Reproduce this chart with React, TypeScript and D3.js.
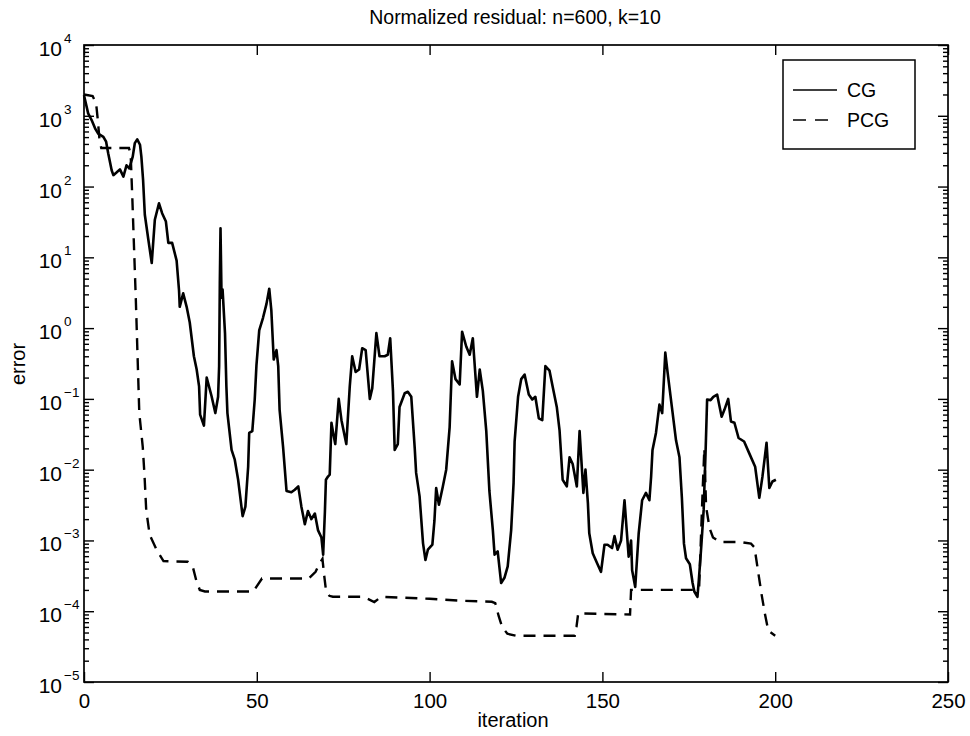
import * as d3 from 'd3';
import { useEffect, useRef } from 'react';

const xTicks = [0, 50, 100, 150, 200, 250];
const yDecades = [-5, -4, -3, -2, -1, 0, 1, 2, 3, 4];

// CG residual (solid)
const cgIter = [0, 1.2, 2.2, 3.2, 4.1, 5.6, 6.4, 7, 8, 8.5, 9.4, 10.4, 11.4, 12.3, 13.1, 14.1, 14.7, 15.4, 16.2, 16.6,
  17.1, 17.6, 18.6, 19.6, 20.5, 21.7, 22.6, 23.7, 24.4, 25.5, 26.8, 27.5, 27.7, 28.7, 29.7, 30.6, 31.8, 32.6, 33.3, 33.6,
  34.7, 35.5, 36.9, 38, 38.8, 39.1, 39.3, 39.5, 39.8, 40.1, 40.8, 41.2, 41.5, 42.7, 43.6, 44.6, 45.9, 46.7, 47.5, 47.8,
  48.7, 49.4, 49.9, 50.7, 51.8, 52.8, 53.6, 54.2, 54.9, 55.7, 56.2, 56.6, 57.6, 58.6, 60, 61, 62, 62.9, 63.9, 64.8,
  65.8, 66.8, 67.7, 68.7, 69.2, 69.7, 70, 70.6, 71.1, 71.6, 72.1, 72.7, 73.7, 74.5, 75.9, 76.9, 77.6, 78.6, 79.6, 80.5,
  81.5, 82.7, 83.4, 84.6, 85.5, 87, 87.9, 88.6, 89.4, 89.9, 90.8, 91.3, 92.8, 93.7, 94.7, 95.7, 96.1, 97.1, 98.1, 98.8,
  99.5, 100.8, 101.4, 101.9, 102.7, 103.8, 104.8, 105.8, 106.5, 107.5, 108.7, 109.4, 110.6, 111.6, 112.5, 113.7, 114.5, 115.4, 116.4, 117.3,
  118.3, 118.8, 119.7, 120.7, 121.7, 122.6, 123.6, 124.3, 124.6, 125.6, 126.5, 127.5, 128.7, 129.7, 130.6, 131.6, 132.6, 133.5, 134.7, 135.6,
  136.8, 137.6, 138.5, 139.7, 140.5, 141.4, 142.6, 143.4, 144.5, 145.1, 145.8, 146.2, 147.2, 148.6, 149.6, 150.6, 151.5, 152.8, 153.5, 154.4,
  155.4, 156.4, 156.9, 157.6, 158.3, 158.6, 159.5, 160.5, 161.5, 162.6, 163.6, 164.1, 164.5, 165.5, 166.5, 167.3, 168.2, 168.9, 170.1, 171.3,
  172.3, 173, 173.6, 174.2, 175.3, 176.1, 176.6, 177.5, 177.9, 178.6, 179.3, 179.9, 180.3, 181.3, 182.1, 183.2, 184.5, 185.3, 186.4, 187.2,
  188.2, 189.4, 191, 192.5, 194.2, 195.4, 196.3, 197.5, 198.3, 199.2, 200.2];
const cgErr = [1950, 1080, 870, 665, 560, 505, 430, 295, 170, 145, 158, 175, 138, 200, 180, 265, 410, 465, 390, 265,
  123, 40, 18, 8.3, 34, 58, 42, 32, 16, 16, 9, 3.4, 2, 3.1, 2, 1.2, 0.4, 0.26, 0.15, 0.06,
  0.042, 0.2, 0.11, 0.063, 0.107, 0.29, 4.3, 25.8, 2.7, 3.5, 0.85, 0.15, 0.063, 0.019, 0.014, 0.0072, 0.0022, 0.003, 0.011, 0.033,
  0.035, 0.098, 0.3, 0.93, 1.4, 2.2, 3.6, 1.8, 0.36, 0.49, 0.29, 0.07, 0.021, 0.005, 0.0048, 0.0052, 0.0058, 0.003, 0.0017, 0.0026,
  0.002, 0.0024, 0.0014, 0.0011, 0.00063, 0.0025, 0.0072, 0.008, 0.0085, 0.046, 0.033, 0.023, 0.1, 0.05, 0.023, 0.15, 0.4, 0.24, 0.26, 0.52,
  0.49, 0.1, 0.14, 0.85, 0.4, 0.4, 0.42, 0.72, 0.13, 0.019, 0.023, 0.077, 0.12, 0.126, 0.107, 0.02, 0.009, 0.0042, 0.00091, 0.00053,
  0.00074, 0.00087, 0.0019, 0.0055, 0.0032, 0.0057, 0.01, 0.04, 0.34, 0.19, 0.16, 0.89, 0.55, 0.42, 0.72, 0.107, 0.26, 0.13, 0.035, 0.005,
  0.0014, 0.00063, 0.0007, 0.00025, 0.0003, 0.00043, 0.0014, 0.0065, 0.025, 0.107, 0.19, 0.22, 0.115, 0.098, 0.107, 0.053, 0.05, 0.29, 0.25, 0.15,
  0.077, 0.036, 0.0072, 0.0058, 0.015, 0.012, 0.0058, 0.035, 0.0047, 0.01, 0.0034, 0.00126, 0.00066, 0.00046, 0.00036, 0.00087, 0.00087, 0.00078, 0.00115, 0.00074,
  0.001, 0.0037, 0.0017, 0.00059, 0.001, 0.00038, 0.00022, 0.00126, 0.0037, 0.0047, 0.0037, 0.008, 0.019, 0.033, 0.083, 0.063, 0.45, 0.23, 0.077, 0.026,
  0.015, 0.004, 0.0009, 0.00056, 0.00046, 0.00025, 0.00019, 0.00016, 0.000275, 0.00081, 0.0027, 0.021, 0.098, 0.096, 0.107, 0.115, 0.056, 0.07, 0.1, 0.048,
  0.046, 0.028, 0.025, 0.017, 0.011, 0.004, 0.0079, 0.024, 0.0055, 0.0068, 0.0072];

// PCG residual (dashed)
const pcgIter = [0, 2.5, 3.5, 4, 4.5, 5, 13, 13.5, 14, 15, 16, 17, 17.5, 18, 19, 21, 23, 30, 31.5, 32.5,
  33.5, 35, 47, 49, 51.5, 53, 65, 67, 68, 69, 69.5, 70, 71, 72, 80, 82, 84, 86, 100, 110,
  118, 119, 120, 121, 122.5, 125, 142, 142.5, 143, 158, 158.3, 159, 177, 178, 179, 179.5, 180, 181, 182, 184,
  190, 193, 194, 195, 196, 197, 198, 200];
const pcgErr = [2000, 1900, 1500, 870, 450, 350, 350, 290, 65, 2.5, 0.063, 0.021, 0.0085, 0.0027, 0.0012, 0.00074, 0.00051, 0.0005, 0.00042, 0.00027,
  0.0002, 0.00019, 0.00019, 0.00019, 0.00029, 0.00029, 0.00029, 0.00036, 0.00046, 0.00055, 0.00032, 0.0002, 0.000165, 0.00016, 0.00016, 0.00015, 0.000135, 0.00016, 0.00015, 0.00014,
  0.000136, 0.00013, 0.000085, 0.00006, 0.000048, 0.000045, 0.000045, 0.00006, 0.000093, 0.00009, 0.0002, 0.0002, 0.0002, 0.00022, 0.005, 0.02, 0.003, 0.0015, 0.0011, 0.00095,
  0.00095, 0.0009, 0.0008, 0.00038, 0.00018, 0.000093, 0.000053, 0.000045];

const FONT = "'Liberation Sans', Arial, Helvetica, sans-serif";

export default function App() {
  const ref = useRef<SVGSVGElement>(null);

  useEffect(() => {
    if (!ref.current) return;
    const svg = d3.select(ref.current);
    svg.selectAll('*').remove();

    const left = 84, right = 948, top = 45, bottom = 682;
    const x = d3.scaleLinear().domain([0, 250]).range([left, right]);
    const y = d3.scaleLog().domain([1e-5, 1e4]).range([bottom, top]);

    const minor: number[] = [];
    yDecades.slice(0, -1).forEach(e => {
      for (let m = 2; m <= 9; m++) minor.push(m * Math.pow(10, e));
    });
    const majors = yDecades.map(e => Math.pow(10, e));

    const styleAxis = (g: any) => {
      g.select('.domain').remove();
      g.selectAll('line').attr('stroke', '#000').attr('stroke-width', 1.4);
    };

    // x axes
    svg.append('g').attr('transform', `translate(0,${bottom})`)
      .call(d3.axisBottom(x).tickValues(xTicks).tickSizeInner(-10).tickSizeOuter(0).tickPadding(11))
      .call(styleAxis)
      .call((g: any) => g.selectAll('text').attr('font-family', FONT).attr('font-size', 20.5).attr('fill', '#000'));
    svg.append('g').attr('transform', `translate(0,${top})`)
      .call(d3.axisTop(x).tickValues(xTicks).tickSizeInner(-10).tickSizeOuter(0).tickFormat(() => ''))
      .call(styleAxis);

    // y axes
    svg.append('g').attr('transform', `translate(${left},0)`)
      .call(d3.axisLeft(y).tickValues(majors).tickSizeInner(-10).tickSizeOuter(0).tickFormat(() => ''))
      .call(styleAxis);
    svg.append('g').attr('transform', `translate(${left},0)`)
      .call(d3.axisLeft(y).tickValues(minor).tickSizeInner(-5).tickSizeOuter(0).tickFormat(() => ''))
      .call(styleAxis);
    svg.append('g').attr('transform', `translate(${right},0)`)
      .call(d3.axisRight(y).tickValues(majors).tickSizeInner(-10).tickSizeOuter(0).tickFormat(() => ''))
      .call(styleAxis);
    svg.append('g').attr('transform', `translate(${right},0)`)
      .call(d3.axisRight(y).tickValues(minor).tickSizeInner(-5).tickSizeOuter(0).tickFormat(() => ''))
      .call(styleAxis);

    // y tick labels 10^e
    const yl = svg.append('g').attr('font-family', FONT).attr('fill', '#000');
    yDecades.forEach(e => {
      const yy = y(Math.pow(10, e));
      yl.append('text').attr('x', 62).attr('y', yy + 11).attr('text-anchor', 'end')
        .attr('font-size', 21).text('10');
      yl.append('text').attr('x', 64).attr('y', yy - 2).attr('font-size', 13.5)
        .text(e < 0 ? `\u2212${-e}` : `${e}`);
    });

    // frame
    svg.append('rect').attr('x', left).attr('y', top).attr('width', right - left).attr('height', bottom - top)
      .attr('fill', 'none').attr('stroke', '#000').attr('stroke-width', 1.7);

    // lines
    const line = d3.line<[number, number]>().x(d => x(d[0])).y(d => y(d[1]));
    svg.append('path').datum(cgIter.map((it, i) => [it, cgErr[i]] as [number, number]))
      .attr('d', line).attr('fill', 'none').attr('stroke', '#000').attr('stroke-width', 2.6)
      .attr('stroke-linejoin', 'round');
    svg.append('path').datum(pcgIter.map((it, i) => [it, pcgErr[i]] as [number, number]))
      .attr('d', line).attr('fill', 'none').attr('stroke', '#000').attr('stroke-width', 2.4)
      .attr('stroke-dasharray', '12,8');

    // title + axis labels
    svg.append('text').attr('x', 515).attr('y', 24).attr('text-anchor', 'middle')
      .attr('font-family', FONT).attr('font-size', 19.5).text('Normalized residual: n=600, k=10');
    svg.append('text').attr('x', 513).attr('y', 727).attr('text-anchor', 'middle')
      .attr('font-family', FONT).attr('font-size', 20).text('iteration');
    svg.append('text').attr('transform', 'translate(25,364) rotate(-90)').attr('text-anchor', 'middle')
      .attr('font-family', FONT).attr('font-size', 20).text('error');

    // legend
    const lg = svg.append('g');
    lg.append('rect').attr('x', 783).attr('y', 60).attr('width', 132).attr('height', 89)
      .attr('fill', '#fff').attr('stroke', '#000').attr('stroke-width', 1.5);
    lg.append('line').attr('x1', 793).attr('x2', 837).attr('y1', 90).attr('y2', 90)
      .attr('stroke', '#000').attr('stroke-width', 1.7);
    lg.append('line').attr('x1', 793).attr('x2', 829).attr('y1', 120).attr('y2', 120)
      .attr('stroke', '#000').attr('stroke-width', 1.7).attr('stroke-dasharray', '13,9');
    lg.append('text').attr('x', 847).attr('y', 97).attr('font-family', FONT).attr('font-size', 19.5).text('CG');
    lg.append('text').attr('x', 847).attr('y', 127).attr('font-family', FONT).attr('font-size', 19.5).text('PCG');
  }, []);

  return (
    <svg ref={ref} width={970} height={736}
      style={{ position: 'absolute', left: 0, top: 0, background: '#fff' }} />
  );
}
